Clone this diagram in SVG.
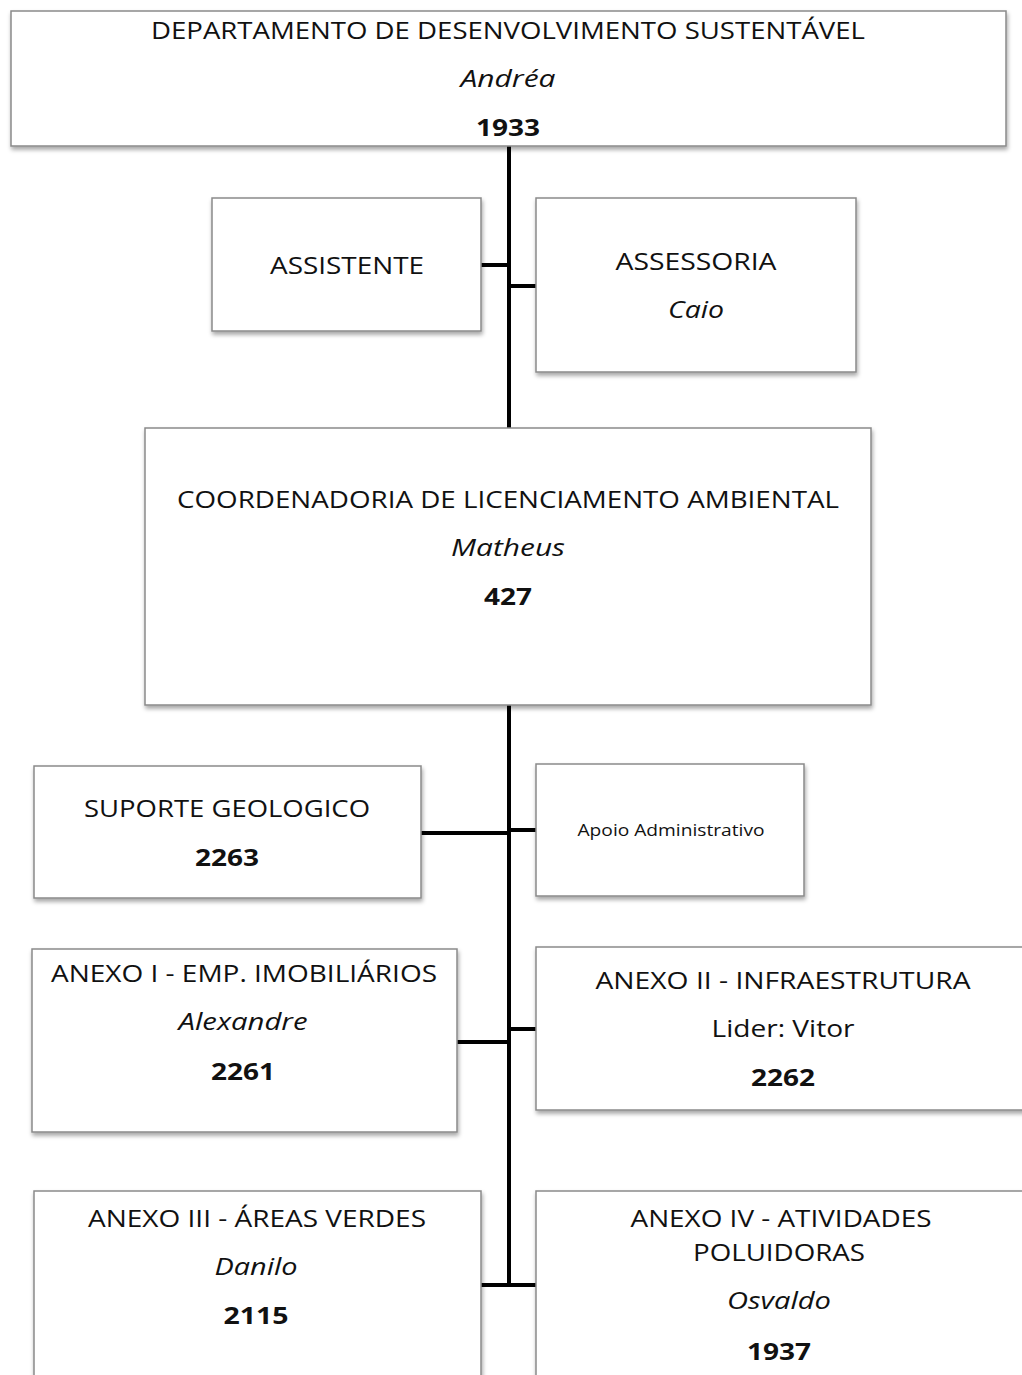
<svg xmlns="http://www.w3.org/2000/svg" width="1022" height="1375" viewBox="0 0 1022 1375">
  <defs>
    <filter id="shadow" x="-5%" y="-5%" width="115%" height="120%">
      <feDropShadow dx="1" dy="3" stdDeviation="2" flood-color="#000" flood-opacity="0.35"/>
    </filter>
  </defs>
  <style>
    .box { fill: #ffffff; stroke: #8a8a8a; stroke-width: 1.5; filter: url(#shadow); }
    .t { font-family: "Open Sans", "Liberation Sans", sans-serif; font-size: 24px; fill: #111; text-anchor: middle; }
    .i { font-style: italic; }
    .b { font-weight: bold; }
    .s { font-size: 16px; }
    .link { stroke: #000; stroke-width: 4; fill: none; }
  </style>
  <rect width="1022" height="1375" fill="#ffffff"/>

  <!-- connectors -->
  <g id="connectors">
    <line class="link" x1="509" y1="146" x2="509" y2="430"/>
    <line class="link" x1="481" y1="265" x2="511" y2="265"/>
    <line class="link" x1="507" y1="286" x2="536" y2="286"/>
    <line class="link" x1="509" y1="705" x2="509" y2="1287"/>
    <line class="link" x1="421" y1="833" x2="511" y2="833"/>
    <line class="link" x1="507" y1="830" x2="536" y2="830"/>
    <line class="link" x1="457" y1="1042" x2="511" y2="1042"/>
    <line class="link" x1="507" y1="1029" x2="536" y2="1029"/>
    <line class="link" x1="481" y1="1285" x2="536" y2="1285"/>
  </g>

  <g id="departamento">
    <rect class="box" x="11" y="11" width="995" height="135"/>
    <text class="t" x="508" y="39" textLength="714" lengthAdjust="spacingAndGlyphs">DEPARTAMENTO DE DESENVOLVIMENTO SUSTENTÁVEL</text>
    <text class="t i" x="508" y="87" textLength="95" lengthAdjust="spacingAndGlyphs">Andréa</text>
    <text class="t b" x="508" y="136" textLength="64" lengthAdjust="spacingAndGlyphs">1933</text>
  </g>

  <g id="assistente">
    <rect class="box" x="212" y="198" width="269" height="133"/>
    <text class="t" x="347" y="274" textLength="154" lengthAdjust="spacingAndGlyphs">ASSISTENTE</text>
  </g>

  <g id="assessoria">
    <rect class="box" x="536" y="198" width="320" height="174"/>
    <text class="t" x="696" y="270" textLength="161" lengthAdjust="spacingAndGlyphs">ASSESSORIA</text>
    <text class="t i" x="696" y="318" textLength="56" lengthAdjust="spacingAndGlyphs">Caio</text>
  </g>

  <g id="coordenadoria">
    <rect class="box" x="145" y="428" width="726" height="277"/>
    <text class="t" x="508" y="508" textLength="662" lengthAdjust="spacingAndGlyphs">COORDENADORIA DE LICENCIAMENTO AMBIENTAL</text>
    <text class="t i" x="508" y="556" textLength="114" lengthAdjust="spacingAndGlyphs">Matheus</text>
    <text class="t b" x="508" y="605" textLength="48" lengthAdjust="spacingAndGlyphs">427</text>
  </g>

  <g id="suporte-geologico">
    <rect class="box" x="34" y="766" width="387" height="132"/>
    <text class="t" x="227" y="817" textLength="286" lengthAdjust="spacingAndGlyphs">SUPORTE GEOLOGICO</text>
    <text class="t b" x="227" y="866" textLength="64" lengthAdjust="spacingAndGlyphs">2263</text>
  </g>

  <g id="apoio-administrativo">
    <rect class="box" x="536" y="764" width="268" height="132"/>
    <text class="t s" x="671" y="836" textLength="187" lengthAdjust="spacingAndGlyphs">Apoio Administrativo</text>
  </g>

  <g id="anexo-1">
    <rect class="box" x="32" y="949" width="425" height="183"/>
    <text class="t" x="244" y="982" textLength="386" lengthAdjust="spacingAndGlyphs">ANEXO I - EMP. IMOBILIÁRIOS</text>
    <text class="t i" x="243" y="1030" textLength="129" lengthAdjust="spacingAndGlyphs">Alexandre</text>
    <text class="t b" x="243" y="1080" textLength="64" lengthAdjust="spacingAndGlyphs">2261</text>
  </g>

  <g id="anexo-2">
    <rect class="box" x="536" y="947" width="500" height="163"/>
    <text class="t" x="783" y="989" textLength="375" lengthAdjust="spacingAndGlyphs">ANEXO II - INFRAESTRUTURA</text>
    <text class="t" x="783" y="1037" textLength="143" lengthAdjust="spacingAndGlyphs">Lider: Vitor</text>
    <text class="t b" x="783" y="1086" textLength="64" lengthAdjust="spacingAndGlyphs">2262</text>
  </g>

  <g id="anexo-3">
    <rect class="box" x="34" y="1191" width="447" height="220"/>
    <text class="t" x="257" y="1227" textLength="338" lengthAdjust="spacingAndGlyphs">ANEXO III - ÁREAS VERDES</text>
    <text class="t i" x="256" y="1275" textLength="83" lengthAdjust="spacingAndGlyphs">Danilo</text>
    <text class="t b" x="256" y="1324" textLength="65" lengthAdjust="spacingAndGlyphs">2115</text>
  </g>

  <g id="anexo-4">
    <rect class="box" x="536" y="1191" width="500" height="220"/>
    <text class="t" x="781" y="1227" textLength="301" lengthAdjust="spacingAndGlyphs">ANEXO IV - ATIVIDADES</text>
    <text class="t" x="779" y="1261" textLength="172" lengthAdjust="spacingAndGlyphs">POLUIDORAS</text>
    <text class="t i" x="779" y="1309" textLength="104" lengthAdjust="spacingAndGlyphs">Osvaldo</text>
    <text class="t b" x="779" y="1360" textLength="64" lengthAdjust="spacingAndGlyphs">1937</text>
  </g>
</svg>
